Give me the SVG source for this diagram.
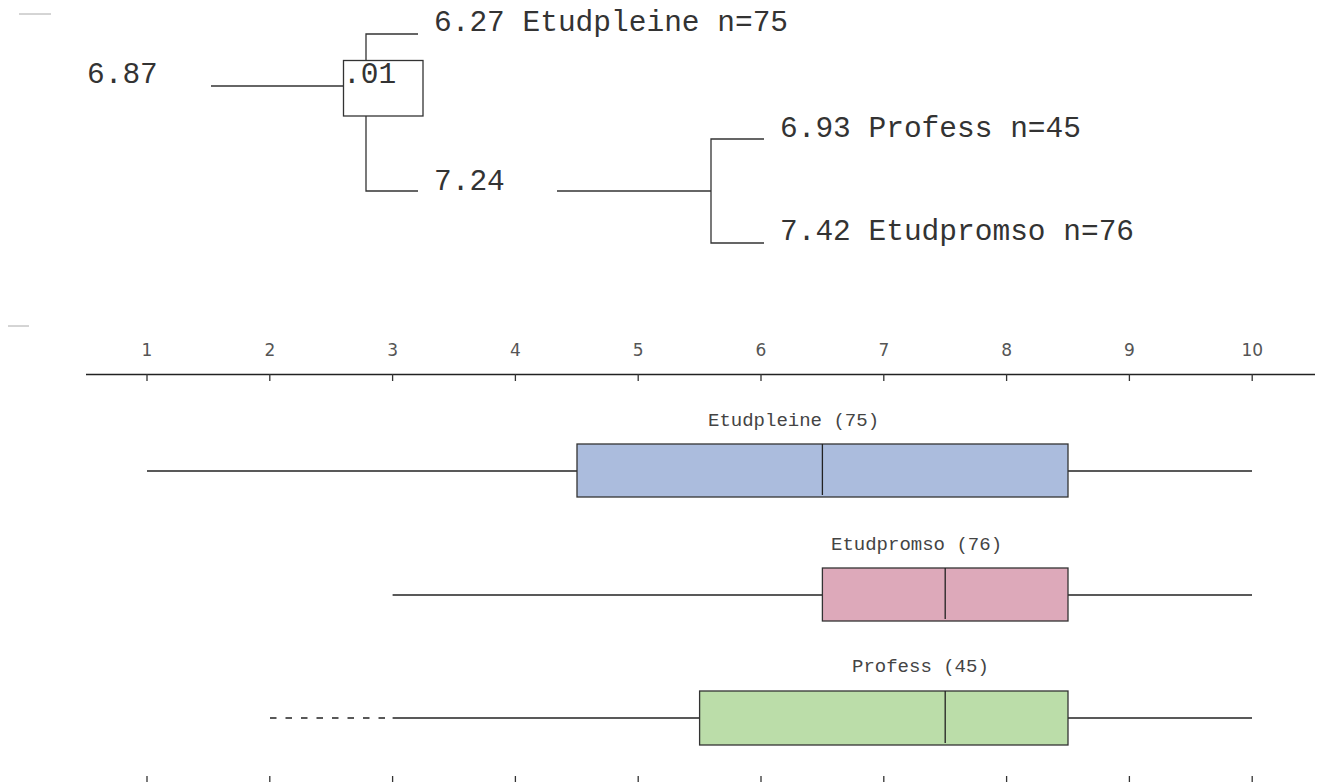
<svg xmlns="http://www.w3.org/2000/svg" width="1322" height="782" viewBox="0 0 1322 782">
<style>
.tree{font-family:"Liberation Mono","Courier New",monospace;font-size:29.5px;fill:#333}
.lbl{font-family:"Liberation Mono","Courier New",monospace;font-size:19px;fill:#444}
.tick{font-family:"DejaVu Sans",sans-serif;font-size:17px;fill:#555;text-anchor:middle}
.ln{stroke:#333;stroke-width:1.3;fill:none}
.wh{stroke:#222;stroke-width:1.3;fill:none}
.bx{stroke:#333;stroke-width:1.3}
.gray{stroke:#aaa;stroke-width:1}
</style>
<rect width="1322" height="782" fill="#fff"/>
<line class="gray" x1="19" y1="14" x2="51" y2="14"/>
<line class="gray" x1="8" y1="326" x2="29" y2="326"/>
<g id="connectors">
<line class="ln" x1="211" y1="86" x2="343" y2="86"/>
<polyline class="ln" points="418,34 366,34 366,60.5"/>
<polyline class="ln" points="366,116 366,191 418,191"/>
<line class="ln" x1="557" y1="191" x2="711" y2="191"/>
<polyline class="ln" points="764,139 711,139 711,243 764,243"/>
</g>
<g id="root"><text class="tree" x="87" y="83">6.87</text></g>
<g id="split"><rect class="ln" x="343.5" y="60.5" width="79.5" height="55.5"/><text class="tree" x="343" y="83">.01</text></g>
<g id="etudpleine"><text class="tree" x="434" y="31">6.27 Etudpleine n=75</text></g>
<g id="node724"><text class="tree" x="434" y="190">7.24</text></g>
<g id="profess"><text class="tree" x="780" y="137">6.93 Profess n=45</text></g>
<g id="etudpromso"><text class="tree" x="780" y="240">7.42 Etudpromso n=76</text></g>
<g id="axis">
<line class="wh" x1="86" y1="374.5" x2="1315" y2="374.5"/>
<g class="ln">
<line x1="147" y1="374" x2="147" y2="381"/><line x1="269.8" y1="374" x2="269.8" y2="381"/><line x1="392.6" y1="374" x2="392.6" y2="381"/><line x1="515.4" y1="374" x2="515.4" y2="381"/><line x1="638.2" y1="374" x2="638.2" y2="381"/><line x1="761" y1="374" x2="761" y2="381"/><line x1="883.8" y1="374" x2="883.8" y2="381"/><line x1="1006.6" y1="374" x2="1006.6" y2="381"/><line x1="1129.4" y1="374" x2="1129.4" y2="381"/><line x1="1252.2" y1="374" x2="1252.2" y2="381"/>
<line x1="147" y1="776" x2="147" y2="782"/><line x1="269.8" y1="776" x2="269.8" y2="782"/><line x1="392.6" y1="776" x2="392.6" y2="782"/><line x1="515.4" y1="776" x2="515.4" y2="782"/><line x1="638.2" y1="776" x2="638.2" y2="782"/><line x1="761" y1="776" x2="761" y2="782"/><line x1="883.8" y1="776" x2="883.8" y2="782"/><line x1="1006.6" y1="776" x2="1006.6" y2="782"/><line x1="1129.4" y1="776" x2="1129.4" y2="782"/><line x1="1252.2" y1="776" x2="1252.2" y2="782"/>
</g>
<text class="tick" x="147" y="356">1</text><text class="tick" x="269.8" y="356">2</text><text class="tick" x="392.6" y="356">3</text><text class="tick" x="515.4" y="356">4</text><text class="tick" x="638.2" y="356">5</text><text class="tick" x="761" y="356">6</text><text class="tick" x="883.8" y="356">7</text><text class="tick" x="1006.6" y="356">8</text><text class="tick" x="1129.4" y="356">9</text><text class="tick" x="1252.2" y="356">10</text>
</g>
<g id="box-etudpleine">
<text class="lbl" x="708" y="426">Etudpleine (75)</text>
<line class="wh" x1="147" y1="471" x2="577" y2="471"/>
<line class="wh" x1="1068" y1="471" x2="1252" y2="471"/>
<rect class="bx" x="577" y="444" width="491" height="53" fill="#abbcdd"/>
<line class="wh" x1="822.4" y1="444" x2="822.4" y2="495"/>
</g>
<g id="box-etudpromso">
<text class="lbl" x="831" y="550">Etudpromso (76)</text>
<line class="wh" x1="392.6" y1="595" x2="822.4" y2="595"/>
<line class="wh" x1="1068" y1="595" x2="1252" y2="595"/>
<rect class="bx" x="822.4" y="568" width="245.6" height="53" fill="#dda9ba"/>
<line class="wh" x1="945.2" y1="568" x2="945.2" y2="619"/>
</g>
<g id="box-profess">
<text class="lbl" x="852" y="672">Profess (45)</text>
<line class="wh" x1="270" y1="718" x2="392" y2="718" stroke-dasharray="6.5 9"/>
<line class="wh" x1="392.6" y1="718" x2="699.6" y2="718"/>
<line class="wh" x1="1068" y1="718" x2="1252" y2="718"/>
<rect class="bx" x="699.6" y="691" width="368.4" height="54" fill="#bbdda9"/>
<line class="wh" x1="945.2" y1="691" x2="945.2" y2="743"/>
</g>
</svg>
